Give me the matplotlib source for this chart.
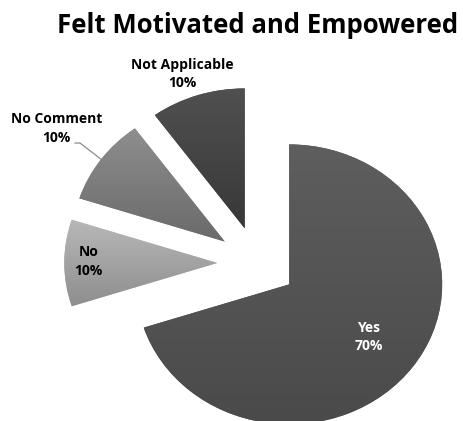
import matplotlib
matplotlib.use("Agg")
import matplotlib.pyplot as plt
import numpy as np

labels = ["Yes", "No", "No Comment", "Not Applicable"]
values = [70, 10, 10, 10]
top_colors = ["#5e5e5e", "#b8b8b8", "#8e8e8e", "#505050"]
bottom_colors = ["#4a4a4a", "#8e8e8e", "#6a6a6a", "#383838"]
text_colors = ["white", "black", "black", "black"]

# label positions (data units, pie radius = 1)
label_pos = [(0.73, -0.53), (-1.10, 0.01), (-1.31, 0.96), (-0.49, 1.35)]

fig = plt.figure(figsize=(4.64, 4.21), dpi=100)
ax = fig.add_axes([0, 0, 1, 1])

wedges, _ = ax.pie(
    values,
    startangle=90,
    counterclock=False,
    explode=[0.26] * 4,
    radius=1.0,
    wedgeprops=dict(linewidth=0),
)

# vertical gradient fill for each slice
t = np.linspace(0, 1, 256)[:, None, None]
for w, c0, c1 in zip(wedges, top_colors, bottom_colors):
    w.set_facecolor(c0)
    a = np.array(matplotlib.colors.to_rgb(c0))
    b = np.array(matplotlib.colors.to_rgb(c1))
    img = a * (1 - t) + b * t
    bb = w.get_path().get_extents(w.get_patch_transform())
    im = ax.imshow(img, extent=[bb.x0, bb.x1, bb.y0, bb.y1], origin="upper",
                   aspect="auto", zorder=2, interpolation="bilinear")
    im.set_clip_path(w)

for lab, v, (x, y), tc in zip(labels, values, label_pos, text_colors):
    ax.text(x, y, f"{lab}\n{v}%", ha="center", va="center", color=tc,
            fontsize=10, fontweight="bold", family=["Open Sans", "DejaVu Sans"],
            linespacing=1.4, zorder=5)

# leader line for "No Comment"
ax.plot([-1.19, -1.157, -1.013], [0.857, 0.857, 0.736], color="#7f7f7f", lw=0.8, zorder=4)

ax.set_aspect("auto")
ax.set_xlim(-1.68, 1.353)
ax.set_ylim(-1.129, 1.879)
ax.axis("off")

fig.text(0.555, 0.94, "Felt Motivated and Empowered", ha="center", va="center",
         fontsize=18.5, fontweight="bold", family=["Open Sans", "DejaVu Sans"])

fig.savefig("out.png", dpi=100, facecolor="white")
